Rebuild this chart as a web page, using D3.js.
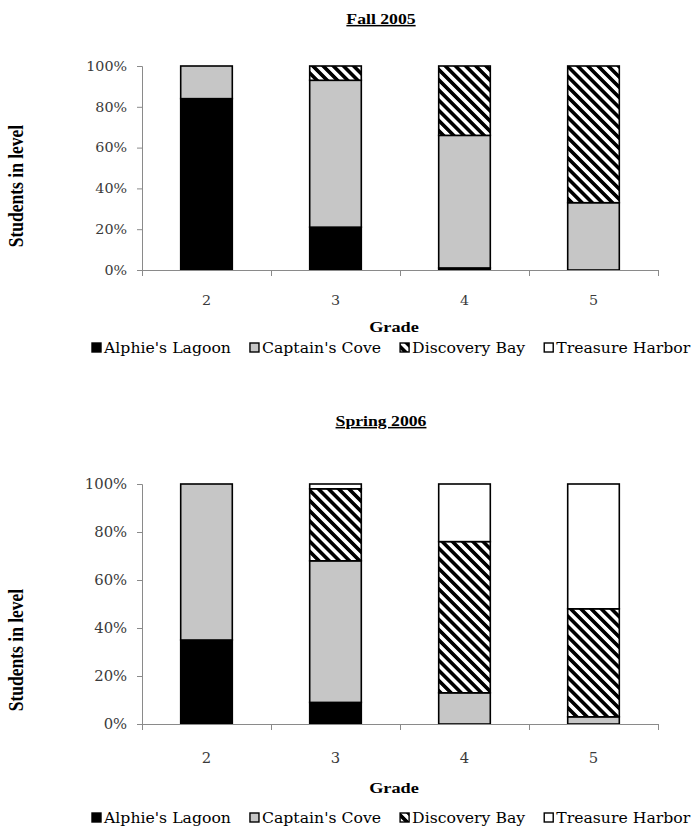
<!DOCTYPE html>
<html>
<head>
<meta charset="utf-8">
<script src="https://cdn.jsdelivr.net/npm/d3@7"></script>
<style>
  html, body { margin: 0; padding: 0; background: #fff; overflow: hidden; }
  svg { display: block; }
</style>
</head>
<body>
<script>
// Grade levels on the x axis and the four reading levels that stack in each bar
const grades = ["2", "3", "4", "5"];
const levels = ["Alphie's Lagoon", "Captain's Cove", "Discovery Bay", "Treasure Harbor"];

// Share of students (%) in each level, Fall 2005
const fallAlphie    = [84, 21, 1, 0];
const fallCaptain   = [16, 72, 65, 33];
const fallDiscovery = [0, 7, 34, 67];
const fallTreasure  = [0, 0, 0, 0];

// Share of students (%) in each level, Spring 2006
const springAlphie    = [35, 9, 0, 0];
const springCaptain   = [65, 59, 13, 3];
const springDiscovery = [0, 30, 63, 45];
const springTreasure  = [0, 2, 24, 52];

const yTickValues = [0, 20, 40, 60, 80, 100];
const panelTitles = ["Fall 2005", "Spring 2006"];
const xAxisTitle = "Grade";
const yAxisTitle = "Students in level";

const W = 692, H = 835;
const SX_BOLD = 1.18;   // horizontal stretch for bold titles
const SX_REG = 1.06;    // horizontal stretch for regular labels
const FONT_BOLD = "Liberation Serif";
const FONT_REG = "DejaVu Serif";

const svg = d3.select("body").append("svg")
  .attr("width", W).attr("height", H)
  .attr("viewBox", `0 0 ${W} ${H}`);

// Diagonal hatch used for Discovery Bay
const defs = svg.append("defs");
const hatch = defs.append("pattern")
  .attr("id", "hatch")
  .attr("patternUnits", "userSpaceOnUse")
  .attr("width", 7.2).attr("height", 7.2)
  .attr("patternTransform", "rotate(-45)");
hatch.append("rect").attr("width", 7.2).attr("height", 7.2).attr("fill", "#fff");
hatch.append("rect").attr("width", 3.6).attr("height", 7.2).attr("fill", "#000");

const fills = {
  "Alphie's Lagoon": "#000",
  "Captain's Cove": "#c6c6c6",
  "Discovery Bay": "url(#hatch)",
  "Treasure Harbor": "#fff"
};

const panels = [
  {
    title: panelTitles[0],
    values: [fallAlphie, fallCaptain, fallDiscovery, fallTreasure],
    layout: { titleY: 24, top: 66, bottom: 270, catY: 305, gradeY: 332, yTitleY: 186, legendY: 348, fs: 13.5 }
  },
  {
    title: panelTitles[1],
    values: [springAlphie, springCaptain, springDiscovery, springTreasure],
    layout: { titleY: 426, top: 484, bottom: 724, catY: 763, gradeY: 793, yTitleY: 650, legendY: 818, fs: 14 }
  }
];

const plotLeft = 142, plotRight = 658;

function stretched(sel, x, y, sx) {
  return sel.attr("transform", `translate(${x},${y}) scale(${sx},1)`);
}

panels.forEach(p => {
  const L = p.layout;
  const g = svg.append("g");

  const rows = grades.map((gr, i) => {
    const r = { grade: gr };
    levels.forEach((lv, k) => { r[lv] = p.values[k][i]; });
    return r;
  });

  const x = d3.scaleBand().domain(grades).range([plotLeft, plotRight])
    .paddingInner(0.6).paddingOuter(0.3);
  const y = d3.scaleLinear().domain([0, 100]).range([L.bottom, L.top]);
  const stack = d3.stack().keys(levels)(rows);

  // Title (bold, underlined)
  stretched(g.append("text"), 381, L.titleY, SX_BOLD)
    .style("font-family", FONT_BOLD)
    .attr("text-anchor", "middle")
    .attr("font-weight", "bold")
    .attr("font-size", 15)
    .attr("text-decoration", "underline")
    .text(p.title);

  // Y axis: light line with short outward ticks
  const yAxis = g.append("g")
    .attr("transform", `translate(${plotLeft},0)`)
    .call(d3.axisLeft(y).tickValues(yTickValues).tickSize(5).tickPadding(9)
      .tickFormat(d => d + "%"));
  yAxis.select(".domain").attr("stroke", "#8a8a8a");
  yAxis.selectAll(".tick line").attr("stroke", "#8a8a8a");
  yAxis.selectAll(".tick text")
    .style("font-family", FONT_REG)
    .attr("font-size", L.fs)
    .attr("fill", "#3a3a3a")
    .attr("transform", `scale(${SX_REG},1)`);

  // Bars
  g.append("g").selectAll("g").data(stack).join("g")
    .attr("fill", d => fills[d.key])
    .selectAll("rect")
    .data(d => d.filter(s => s[1] - s[0] > 0))
    .join("rect")
    .attr("x", d => x(d.data.grade))
    .attr("width", x.bandwidth())
    .attr("y", d => y(d[1]))
    .attr("height", d => y(d[0]) - y(d[1]))
    .attr("stroke", "#000")
    .attr("stroke-width", 1.6);

  // X axis: baseline with ticks at the category boundaries
  const xb = d3.scaleLinear().domain([0, grades.length]).range([plotLeft, plotRight]);
  const xAxis = g.append("g")
    .attr("transform", `translate(0,${L.bottom})`)
    .call(d3.axisBottom(xb).tickValues(d3.range(grades.length + 1)).tickSize(6).tickSizeOuter(0).tickFormat(""));
  xAxis.select(".domain").attr("stroke", "#8a8a8a");
  xAxis.selectAll(".tick line").attr("stroke", "#8a8a8a");

  // Category labels
  g.append("g").selectAll("text").data(grades).join("text")
    .each(function(d) { stretched(d3.select(this), x(d) + x.bandwidth() / 2, L.catY, SX_REG); })
    .style("font-family", FONT_REG)
    .attr("text-anchor", "middle")
    .attr("font-size", L.fs)
    .attr("fill", "#3a3a3a")
    .text(d => d);

  // Axis titles
  stretched(g.append("text"), (plotLeft + plotRight) / 2 - 6, L.gradeY, SX_BOLD)
    .style("font-family", FONT_BOLD)
    .attr("text-anchor", "middle")
    .attr("font-weight", "bold")
    .attr("font-size", 15.5)
    .text(xAxisTitle);

  g.append("text")
    .attr("transform", `translate(23,${L.yTitleY}) scale(${SX_BOLD},1) rotate(-90)`)
    .style("font-family", FONT_BOLD)
    .attr("text-anchor", "middle")
    .attr("font-weight", "bold")
    .attr("font-size", 17.5)
    .text(yAxisTitle);

  // Legend
  let cx = 92;
  levels.forEach(lv => {
    g.append("rect")
      .attr("x", cx).attr("y", L.legendY - 5)
      .attr("width", 9).attr("height", 9)
      .attr("fill", fills[lv])
      .attr("stroke", "#000").attr("stroke-width", 1.4);
    const t = stretched(g.append("text"), cx + 12, L.legendY + 5, SX_REG)
      .style("font-family", FONT_REG)
      .attr("font-size", 14.8)
      .text(lv);
    cx += 12 + t.node().getComputedTextLength() * SX_REG + 19;
  });
});
</script>
</body>
</html>
